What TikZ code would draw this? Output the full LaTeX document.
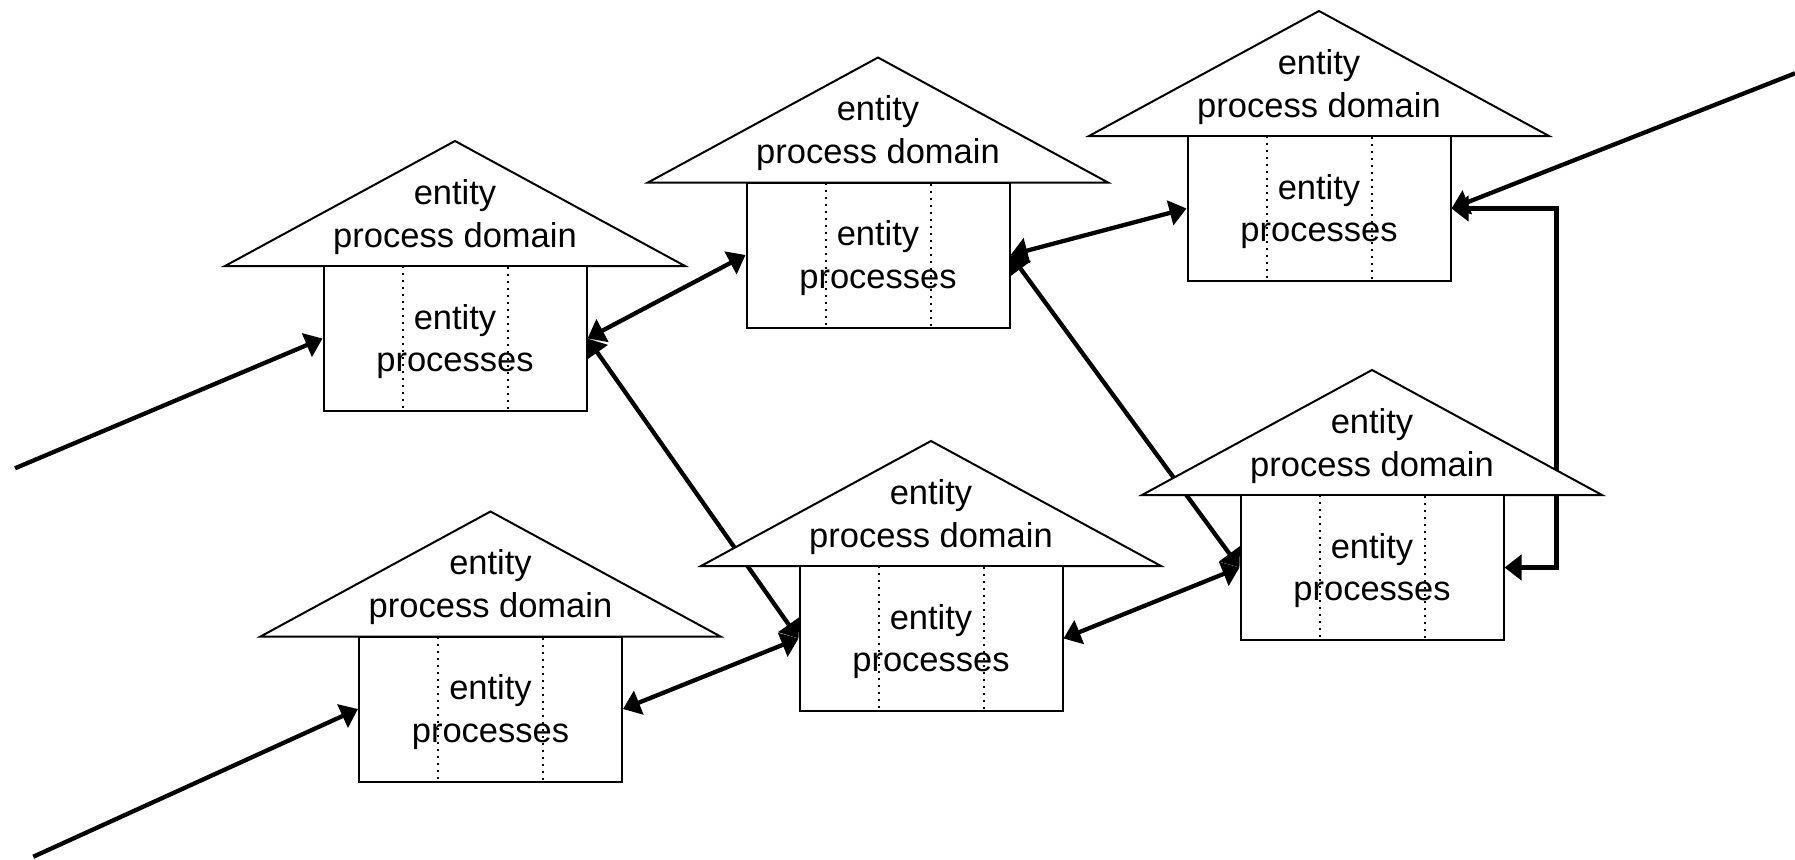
\documentclass[tikz,border=0pt]{standalone}
\usepackage{fontspec}
\setmainfont{Liberation Sans}
\usetikzlibrary{arrows.meta}
\pgfdeclarelayer{background}
\pgfsetlayers{background,main}
\tikzset{
  roof/.style={draw=black, fill=white, line width=2pt, line join=miter},
  boxn/.style={draw=black, fill=white, line width=2pt, minimum width=263pt, minimum height=145pt, inner sep=0pt},
  dotln/.style={draw=black, line width=2pt, dash pattern=on 2pt off 5pt},
  lbl/.style={anchor=base, inner sep=0pt, font=\fontsize{34.5}{43}\selectfont},
  tip/.tip={Triangle[length=17pt,width=25pt]},
  conn/.style={line width=4.3pt, -tip},
  biconn/.style={line width=4.3pt, tip-tip},
}
\newcommand\househouse[3]{%
  \draw[roof] ({#2-230},{#3+125}) -- (#2,#3) -- ({#2+230},{#3+125}) -- cycle;
  \node[boxn] (#1) at (#2,{#3+197.5}) {};
  \draw[dotln] ({#2-52.5},{#3+125}) rectangle ({#2+52.5},{#3+270});
  \node[lbl] (#1-r1) at (#2,{#3+63.3}) {entity};
  \node[lbl] (#1-r2) at (#2,{#3+106.3}) {process domain};
  \node[lbl] (#1-b1) at (#2,{#3+188}) {entity};
  \node[lbl] (#1-b2) at (#2,{#3+230.5}) {processes};
}
\begin{document}
\begin{tikzpicture}[x=1pt,y=-1pt]
\useasboundingbox (0,0) rectangle (1795,859);
\househouse{A}{455}{141}
\househouse{B}{878}{57.5}
\househouse{C}{1319}{11}
\househouse{D}{490.5}{511.5}
\househouse{E}{931}{441}
\househouse{F}{1372}{370}
\coordinate (inA) at (15,468.3);
\coordinate (inD) at (33.3,856.7);
\coordinate (inC) at (1795,73.3);
\begin{pgfonlayer}{background}
\draw[conn] (inA) -- (A.west);
\draw[conn] (inD) -- (D.west);
\draw[conn] (inC) -- (C.east);
\draw[biconn] (A.east) -- (B.west);
\draw[biconn] (A.east) -- (E.west);
\draw[biconn] (D.east) -- (E.west);
\draw[biconn] (B.east) -- (C.west);
\draw[biconn] (B.east) -- (F.west);
\draw[biconn] (E.east) -- (F.west);
\draw[biconn] (F.east) -- ++(52,0) |- (C.east);
\end{pgfonlayer}
\end{tikzpicture}
\end{document}
